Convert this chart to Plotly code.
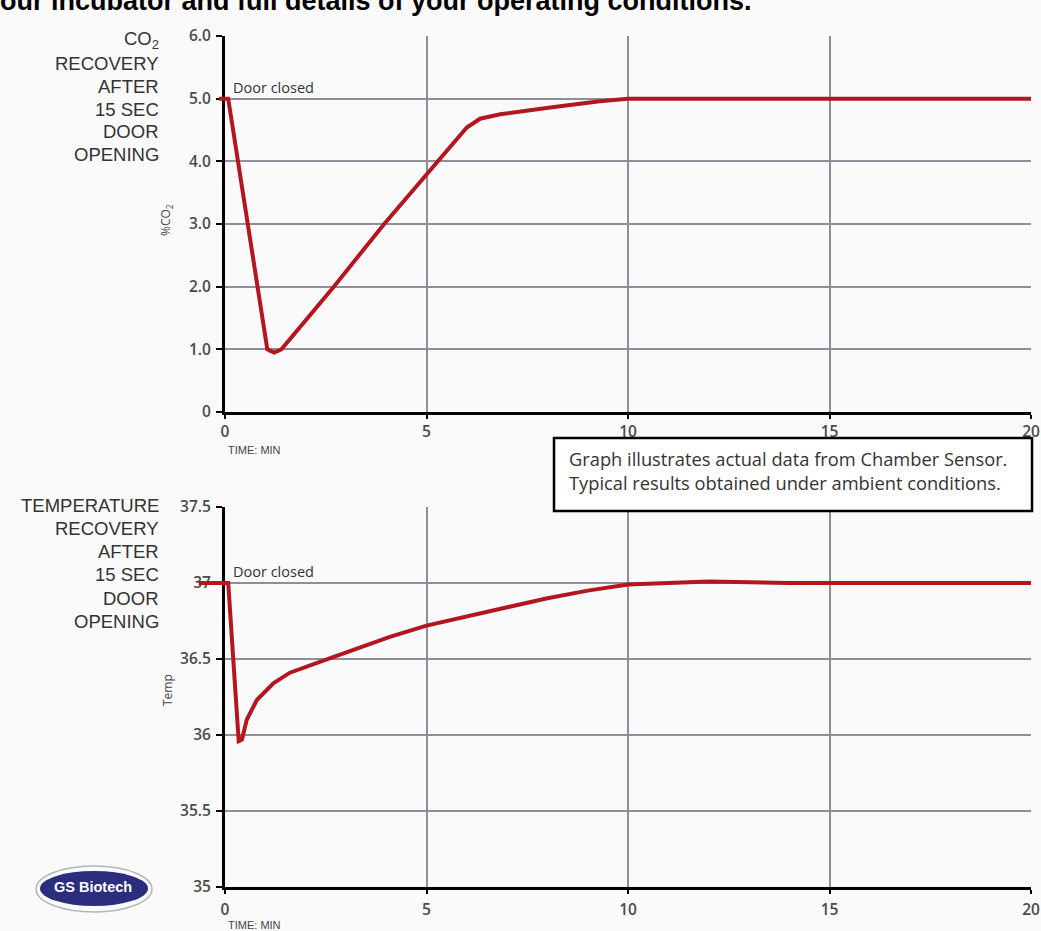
import plotly.graph_objects as go

# ---------------- data ----------------
co2_time = [-0.15, 0.08, 1.05, 1.22, 1.4, 2.7, 3.95, 5.3, 6.0, 6.33, 6.83, 8.07, 9.3, 10.0, 15.0, 20.0]
co2_pct = [5.0, 5.0, 1.0, 0.95, 1.0, 2.0, 3.0, 4.0, 4.54, 4.68, 4.75, 4.86, 4.96, 5.0, 5.0, 5.0]

temp_time = [-0.65, 0.08, 0.34, 0.42, 0.54, 0.79, 1.2, 1.61, 2.44, 3.27, 4.09, 5.0,
             6.0, 7.0, 8.0, 9.0, 10.0, 11.0, 12.0, 14.0, 20.0]
temp_c = [37.0, 37.0, 35.96, 35.97, 36.10, 36.23, 36.34, 36.41, 36.49, 36.57, 36.645, 36.72,
          36.78, 36.84, 36.90, 36.95, 36.99, 37.0, 37.01, 37.0, 37.0]

x_ticks = [0, 5, 10, 15, 20]
x_tick_text = ["0", "5", "10", "15", "20"]
co2_ticks = [0, 1, 2, 3, 4, 5, 6]
co2_tick_text = ["0", "1.0", "2.0", "3.0", "4.0", "5.0", "6.0"]
co2_grid = [1, 2, 3, 4, 5]
temp_ticks = [35, 35.5, 36, 36.5, 37, 37.5]
temp_tick_text = ["35", "35.5", "36", "36.5", "37", "37.5"]
temp_grid = [35.5, 36, 36.5, 37]

co2_label_lines = ["CO<sub>2</sub>", "RECOVERY", "AFTER", "15 SEC", "DOOR", "OPENING"]
temp_label_lines = ["TEMPERATURE", "RECOVERY", "AFTER", "15 SEC", "DOOR", "OPENING"]
note_lines = ["Graph illustrates actual data from Chamber Sensor.",
              "Typical results obtained under ambient conditions."]
header_text = "our incubator and full details of your operating conditions."

# ---------------- geometry helpers ----------------
W, H = 1041, 931
def px_x(p):
    return p / W
def px_y(p):
    return 1 - p / H

X0_PX, X20_PX = 225, 1031
TOP_Y0, TOP_Y1 = 412, 36      # pixel rows for 0 and 6.0
BOT_Y0, BOT_Y1 = 887, 507     # pixel rows for 35 and 37.5
EXT = 0.7                      # left extension (minutes) for the line stub
ext_left_px = X0_PX - EXT * (X20_PX - X0_PX) / 20

RED = "#b3161f"
GRID = "#8f8f99"
TICKFONT = dict(family="Open Sans", size=15.5, color="#4a4a4a", weight=600)

fig = go.Figure()

fig.add_trace(go.Scatter(x=co2_time, y=co2_pct, mode="lines", xaxis="x3", yaxis="y3",
                         line=dict(color=RED, width=4), showlegend=False, hoverinfo="skip"))
fig.add_trace(go.Scatter(x=temp_time, y=temp_c, mode="lines", xaxis="x4", yaxis="y4",
                         line=dict(color=RED, width=4), showlegend=False, hoverinfo="skip"))
# empty traces to anchor grid-only overlay axes
fig.add_trace(go.Scatter(x=[], y=[], xaxis="x", yaxis="y5", showlegend=False, hoverinfo="skip"))
fig.add_trace(go.Scatter(x=[], y=[], xaxis="x2", yaxis="y6", showlegend=False, hoverinfo="skip"))

xdom = [px_x(X0_PX), px_x(X20_PX)]
xdom_ext = [px_x(ext_left_px), px_x(X20_PX)]
top_dom = [px_y(TOP_Y0), px_y(TOP_Y1)]
bot_dom = [px_y(BOT_Y0), px_y(BOT_Y1)]

xaxis_common = dict(range=[0, 20], tickvals=x_ticks, ticktext=x_tick_text,
                    showgrid=True, gridcolor=GRID, gridwidth=2, zeroline=False,
                    showline=True, linecolor="black", linewidth=3,
                    ticks="outside", ticklen=4, tickwidth=2, tickcolor="black",
                    tickfont=TICKFONT, fixedrange=True, automargin=False)
yaxis_common = dict(showgrid=False, zeroline=False, showline=True, linecolor="black",
                    linewidth=3, ticks="outside", ticklen=6, tickwidth=2, tickcolor="black",
                    tickfont=TICKFONT, ticklabelstandoff=2, fixedrange=True, automargin=False)
grid_common = dict(showgrid=True, gridcolor=GRID, gridwidth=2, zeroline=False,
                   showline=False, showticklabels=False, ticks="", fixedrange=True,
                   automargin=False)
hidden = dict(visible=False, fixedrange=True, automargin=False)

fig.update_layout(
    template="none",
    width=W, height=H,
    autosize=False,
    margin=dict(l=0, r=0, t=0, b=0, pad=0, autoexpand=False),
    paper_bgcolor="#fafafa",
    plot_bgcolor="rgba(0,0,0,0)",
    showlegend=False,
    xaxis=dict(domain=xdom, anchor="y", ticklabelstandoff=-1, **xaxis_common),
    yaxis=dict(domain=top_dom, anchor="x", range=[0, 6], tickvals=co2_ticks,
               ticktext=co2_tick_text, **yaxis_common),
    xaxis2=dict(domain=xdom, anchor="y2", ticklabelstandoff=2, **xaxis_common),
    yaxis2=dict(domain=bot_dom, anchor="x2", range=[35, 37.5], tickvals=temp_ticks,
                ticktext=temp_tick_text, **yaxis_common),
    xaxis3=dict(domain=xdom_ext, anchor="y3", range=[-EXT, 20], **hidden),
    yaxis3=dict(domain=top_dom, anchor="x3", range=[0, 6], **hidden),
    xaxis4=dict(domain=xdom_ext, anchor="y4", range=[-EXT, 20], **hidden),
    yaxis4=dict(domain=bot_dom, anchor="x4", range=[35, 37.5], **hidden),
    yaxis5=dict(overlaying="y", anchor="x", range=[0, 6], tickvals=co2_grid, **grid_common),
    yaxis6=dict(overlaying="y2", anchor="x2", range=[35, 37.5], tickvals=temp_grid, **grid_common),
)

annotations = []
LABEL_FONT = dict(family="Liberation Sans, Arial", size=18.5, color="#333333")
for i, t in enumerate(co2_label_lines):
    annotations.append(dict(text=t, xref="paper", yref="paper", x=px_x(161), y=px_y(40 + 23 * i),
                            xanchor="right", yanchor="middle", showarrow=False, font=LABEL_FONT))
for i, t in enumerate(temp_label_lines):
    annotations.append(dict(text=t, xref="paper", yref="paper", x=px_x(161), y=px_y(505 + 23.3 * i),
                            xanchor="right", yanchor="middle", showarrow=False, font=LABEL_FONT))

DOOR_FONT = dict(family="Open Sans", size=14.5, color="#333333")
annotations.append(dict(text="Door closed", xref="x", yref="y", x=0.15, y=co2_pct[0],
                        xanchor="left", yanchor="bottom", showarrow=False, font=DOOR_FONT))
annotations.append(dict(text="Door closed", xref="x2", yref="y2", x=0.15, y=temp_c[0],
                        xanchor="left", yanchor="bottom", showarrow=False, font=DOOR_FONT))

SMALL = dict(family="Liberation Sans Narrow, Liberation Sans", size=11, color="#444444")
annotations.append(dict(text="TIME: MIN", xref="paper", yref="paper", x=px_x(226), y=px_y(450),
                        xanchor="left", yanchor="middle", showarrow=False, font=SMALL))
annotations.append(dict(text="TIME: MIN", xref="paper", yref="paper", x=px_x(226), y=px_y(925),
                        xanchor="left", yanchor="middle", showarrow=False, font=SMALL))

AXT = dict(family="Open Sans", size=12, color="#444444")
annotations.append(dict(text="%CO<sub>2</sub>", xref="paper", yref="paper", x=px_x(166), y=px_y(220),
                        xanchor="center", yanchor="middle",
                        textangle=-90, showarrow=False, font=AXT))
annotations.append(dict(text="Temp", xref="paper", yref="paper", x=px_x(167), y=px_y(690),
                        xanchor="center", yanchor="middle",
                        textangle=-90, showarrow=False, font=AXT))

NOTE_FONT = dict(family="Open Sans", size=18.3, color="#333333")
annotations.append(dict(text="<br>".join(note_lines), xref="paper", yref="paper",
                        x=px_x(567), y=px_y(471), xanchor="left", yanchor="middle", align="left",
                        showarrow=False, font=NOTE_FONT))

annotations.append(dict(text=header_text, xref="paper", yref="paper", x=px_x(-2), y=px_y(18),
                        xanchor="left", yanchor="bottom", showarrow=False,
                        font=dict(family="Liberation Sans, Arial", size=27, color="black", weight="bold")))

annotations.append(dict(text="GS Biotech", xref="paper", yref="paper", x=px_x(93), y=px_y(887),
                        xanchor="center", yanchor="middle", showarrow=False,
                        font=dict(family="Liberation Sans Narrow, Liberation Sans", size=14.5,
                                  color="white", weight="bold")))

shapes = [
    dict(type="rect", xref="paper", yref="paper", x0=px_x(554), x1=px_x(1032), y0=px_y(511), y1=px_y(438),
         fillcolor="white", line=dict(color="black", width=2.5), layer="above"),
    dict(type="circle", xref="paper", yref="paper", x0=px_x(36), x1=px_x(152), y0=px_y(912), y1=px_y(866),
         fillcolor="rgba(0,0,0,0)", line=dict(color="#b4b4bc", width=1.5), layer="above"),
    dict(type="circle", xref="paper", yref="paper", x0=px_x(40), x1=px_x(148), y0=px_y(906), y1=px_y(871),
         fillcolor="#2b2d7d", line=dict(width=0), layer="above"),
]

fig.update_layout(annotations=annotations, shapes=shapes)

fig.write_html("out.html", config={"displayModeBar": False},
               post_script="document.body.style.margin='0px';document.body.style.overflow='hidden';")
